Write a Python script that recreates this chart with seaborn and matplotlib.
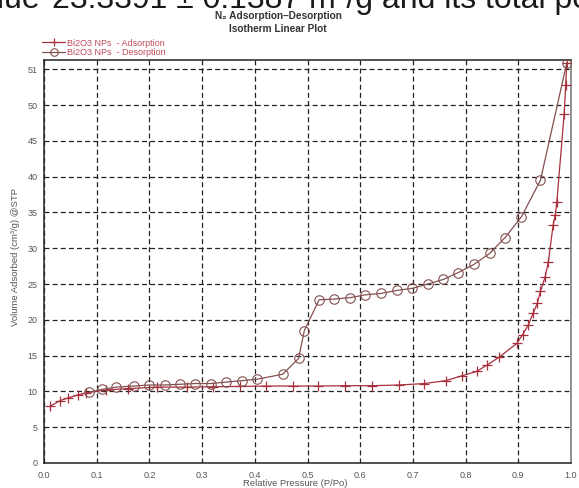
import numpy as np
import pandas as pd
import matplotlib
matplotlib.use("Agg")
import matplotlib.pyplot as plt
from matplotlib.ticker import MultipleLocator, FixedLocator
import seaborn as sns

# Isotherm data: relative pressure (P/Po) and volume adsorbed (cm³/g STP)
ads_p = [0.011, 0.030, 0.046, 0.064, 0.080, 0.117, 0.160, 0.214, 0.271, 0.321,
         0.372, 0.421, 0.472, 0.520, 0.572, 0.623, 0.674, 0.722, 0.762, 0.794,
         0.821, 0.841, 0.864, 0.897, 0.908, 0.919, 0.928, 0.936, 0.942, 0.951,
         0.957, 0.966, 0.970, 0.973, 0.987, 0.990, 0.992]
ads_v = [7.9, 8.7, 9.1, 9.5, 9.8, 10.2, 10.4, 10.6, 10.6, 10.65,
         10.7, 10.75, 10.75, 10.75, 10.8, 10.8, 10.9, 11.1, 11.5, 12.2,
         12.8, 13.7, 14.8, 16.7, 17.9, 19.3, 20.9, 22.3, 24.0, 26.0,
         28.1, 33.2, 34.6, 36.4, 48.7, 52.8, 55.9]

des_p = [0.992, 0.942, 0.906, 0.875, 0.846, 0.816, 0.786, 0.758, 0.728, 0.699,
         0.669, 0.640, 0.610, 0.581, 0.551, 0.522, 0.494, 0.483, 0.453, 0.404,
         0.375, 0.345, 0.316, 0.287, 0.258, 0.230, 0.200, 0.170, 0.137, 0.111,
         0.086]
des_v = [55.9, 39.5, 34.4, 31.5, 29.3, 27.75, 26.6, 25.65, 25.0, 24.4,
         24.1, 23.7, 23.5, 23.1, 22.9, 22.8, 18.5, 14.6, 12.4, 11.7,
         11.5, 11.3, 11.1, 11.1, 11.0, 10.9, 10.9, 10.75, 10.6, 10.3,
         9.9]

x_ticks = [0.0, 0.1, 0.2, 0.3, 0.4, 0.5, 0.6, 0.7, 0.8, 0.9, 1.0]
x_tick_labels = ["0.0", "0.1", "0.2", "0.3", "0.4", "0.5", "0.6", "0.7", "0.8", "0.9", "1.0"]
y_ticks = [0, 5, 10, 15, 20, 25, 30, 35, 40, 45, 50, 55]
y_tick_labels = ["0", "5", "10", "15", "20", "25", "30", "35", "40", "45", "50", "51"]

labels = ["Bi2O3 NPs  - Adsorption", "Bi2O3 NPs  - Desorption"]

sns.set_style("white")
plt.rcParams["font.family"] = ["Liberation Sans", "DejaVu Sans"]

ads_df = pd.DataFrame({"p": ads_p, "v": ads_v})
des_df = pd.DataFrame({"p": des_p, "v": des_v})

fig = plt.figure(figsize=(5.79, 4.88), dpi=100)
ax = fig.add_axes([44 / 579, 25 / 488, 527 / 579, 403 / 488])

ads_color = "#a8303c"
des_color = "#84504f"

sns.lineplot(data=ads_df, x="p", y="v", sort=False, ax=ax, color=ads_color,
             lw=0.9, marker="+", markersize=7, mew=0.9, mec=ads_color,
             label=labels[0], zorder=4)
sns.lineplot(data=des_df, x="p", y="v", sort=False, ax=ax, color=des_color,
             lw=0.9, marker="o", markersize=6.8, mew=0.8, mec=des_color,
             mfc="none", label=labels[1], zorder=4)

ax.set_xlim(0, 1.0)
ax.set_ylim(0, 56.3)

ax.xaxis.set_major_locator(FixedLocator(x_ticks))
ax.set_xticklabels(x_tick_labels)
ax.xaxis.set_minor_locator(MultipleLocator(0.02))
ax.yaxis.set_major_locator(FixedLocator(y_ticks))
ax.set_yticklabels(y_tick_labels)
ax.yaxis.set_minor_locator(MultipleLocator(1))

ax.tick_params(axis="both", which="major", direction="inout", length=7,
               width=0.9, color="#222222", labelsize=6.5, labelcolor="#555555")
ax.tick_params(axis="x", which="major", pad=2)
ax.tick_params(axis="y", which="major", pad=1)
ax.tick_params(axis="x", which="minor", direction="in", length=3, width=0.8, color="#222222")
ax.tick_params(axis="y", which="minor", direction="out", length=3, width=0.8, color="#222222")

ax.grid(True, which="major", color="#222222", linestyle=(0, (4, 2.5)), linewidth=0.9)
ax.set_axisbelow(True)

for side in ["left", "bottom", "top"]:
    ax.spines[side].set_color("#222222")
    ax.spines[side].set_linewidth(1.1)
ax.spines["right"].set_color("#777777")
ax.spines["right"].set_linewidth(1.1)

ax.set_xlabel("Relative Pressure (P/Po)", fontsize=6.8, color="#555555")
ax.set_ylabel("Volume Adsorbed (cm³/g) @STP", fontsize=6.8, color="#555555")
ax.xaxis.set_label_coords(0.476, -0.040)
ax.yaxis.set_label_coords(-0.046, 0.51)

# Legend above the plot area, top-left
leg = ax.legend(loc="lower left", bbox_to_anchor=(42 / 579, 1 - 57 / 488),
                bbox_transform=fig.transFigure, frameon=False, fontsize=6.5,
                handlelength=2.6, handletextpad=0.2, labelspacing=0.05,
                borderpad=0, borderaxespad=0, markerscale=0.8)
for t in leg.get_texts():
    t.set_color("#c04a58")

# Titles
fig.text(278 / 579, 1 - 16 / 488, "N₂ Adsorption–Desorption", ha="center", va="center",
         fontsize=7.3, fontweight="bold", color="#333333")
fig.text(278 / 579, 1 - 29 / 488, "Isotherm Linear Plot", ha="center", va="center",
         fontsize=7.3, fontweight="bold", color="#333333")

# Running text of the page, cut at the top edge
fig.text(41 / 579, 1 - 8 / 488, "value", ha="right", va="baseline",
         fontsize=23, color="#1a1a1a")
fig.text(52 / 579, 1 - 8 / 488, "23.3391 ± 0.1387 m²/g and its total pore",
         ha="left", va="baseline", fontsize=23, color="#1a1a1a")

fig.savefig("out.png", dpi=100, facecolor="white")
